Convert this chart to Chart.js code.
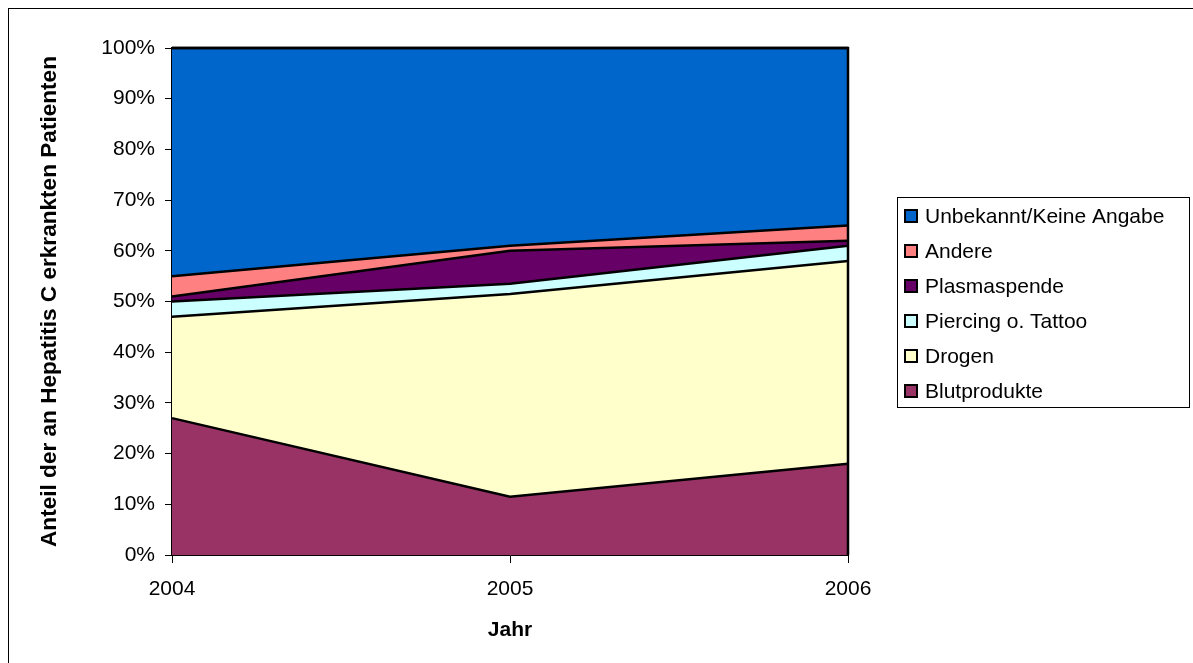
<!DOCTYPE html>
<html>
<head>
<meta charset="utf-8">
<script src="https://cdn.jsdelivr.net/npm/chart.js@4/dist/chart.umd.min.js"></script>
<style>
  html, body { margin: 0; padding: 0; background: #fff; }
  #wrap { width: 1193px; height: 663px; position: relative; }
</style>
</head>
<body>
<div id="wrap"><canvas id="c" width="1193" height="663"></canvas></div>
<script>
// Years on the x axis
const years = ['2004', '2005', '2006'];

// Share of patients (%) per transmission route, stacked bottom to top
const blutprodukte = [27, 11.5, 18];
const drogen = [20, 40, 40];
const piercing = [3, 2, 3];
const plasmaspende = [1, 6.5, 1];
const andere = [4, 1, 3];
const unbekannt = [45, 39, 35];

const yTicks = [0, 10, 20, 30, 40, 50, 60, 70, 80, 90, 100];

const FONT = "'Liberation Sans', Arial, sans-serif";

const series = [
  { label: 'Blutprodukte', data: blutprodukte, color: '#993366' },
  { label: 'Drogen', data: drogen, color: '#FFFFCC' },
  { label: 'Piercing o. Tattoo', data: piercing, color: '#CCFFFF' },
  { label: 'Plasmaspende', data: plasmaspende, color: '#660066' },
  { label: 'Andere', data: andere, color: '#FF8080' },
  { label: 'Unbekannt/Keine Angabe', data: unbekannt, color: '#0066CC' }
];

const datasets = series.map((s, i) => ({
  label: s.label,
  data: s.data,
  backgroundColor: s.color,
  borderColor: '#000',
  borderWidth: 2.5,
  pointRadius: 0,
  tension: 0,
  fill: i === 0 ? 'origin' : '-1',
  clip: 4
}));

// Page frame, plot frame and the boxed legend on the right
const decor = {
  id: 'decor',
  beforeDraw(chart) {
    const ctx = chart.ctx;
    ctx.save();
    ctx.fillStyle = '#fff';
    ctx.fillRect(0, 0, chart.width, chart.height);
    ctx.strokeStyle = '#000';
    ctx.lineWidth = 1;
    ctx.strokeRect(8.5, 8.5, chart.width + 20, chart.height + 20);
    ctx.restore();
  },
  afterDraw(chart) {
    const ctx = chart.ctx;
    const a = chart.chartArea;
    ctx.save();
    ctx.strokeStyle = '#000';
    ctx.lineWidth = 2.5;
    ctx.beginPath();
    ctx.moveTo(a.left, a.top);
    ctx.lineTo(a.right, a.top);
    ctx.lineTo(a.right, a.bottom);
    ctx.stroke();

    // legend
    const lx = 897, ly = 197, lw = 292, lh = 210;
    ctx.lineWidth = 1;
    ctx.strokeRect(lx + 0.5, ly + 0.5, lw, lh);
    ctx.font = '21px ' + FONT;
    ctx.textBaseline = 'middle';
    ctx.fillStyle = '#000';
    const items = chart.data.datasets.slice().reverse();
    items.forEach((d, i) => {
      const cy = 216 + i * 35;
      ctx.fillStyle = d.backgroundColor;
      ctx.fillRect(905, cy - 6, 12, 12);
      ctx.strokeStyle = '#000';
      ctx.lineWidth = 2;
      ctx.strokeRect(905, cy - 6, 12, 12);
      ctx.fillStyle = '#000';
      ctx.fillText(d.label, 925, cy + 1);
    });
    ctx.restore();
  }
};

new Chart(document.getElementById('c'), {
  type: 'line',
  data: { labels: years, datasets },
  plugins: [decor],
  options: {
    responsive: false,
    animation: false,
    devicePixelRatio: 1,
    layout: { padding: { left: 0, top: 48, right: 345, bottom: 0 } },
    plugins: {
      legend: { display: false },
      tooltip: { enabled: false },
      filler: { propagate: false }
    },
    scales: {
      x: {
        type: 'category',
        offset: false,
        afterFit(scale) { scale.height = 108; },
        grid: { drawOnChartArea: false, drawTicks: true, tickLength: 8, color: '#000' },
        border: { display: true, color: '#000', width: 1 },
        ticks: { color: '#000', font: { family: FONT, size: 21 }, padding: 14, maxRotation: 0 },
        title: {
          display: true, text: 'Jahr', color: '#000',
          font: { family: FONT, size: 21, weight: 'bold' },
          padding: { top: 0, bottom: 20 }
        }
      },
      y: {
        stacked: true,
        min: 0, max: 100,
        afterFit(scale) { scale.width = 172; },
        afterBuildTicks(scale) { scale.ticks = yTicks.map(v => ({ value: v })); },
        grid: { drawOnChartArea: false, drawTicks: true, tickLength: 7, color: '#000' },
        border: { display: true, color: '#000', width: 2.5 },
        ticks: {
          color: '#000', font: { family: FONT, size: 21 }, padding: 10,
          callback: v => v + '%'
        },
        title: {
          display: true, text: 'Anteil der an Hepatitis C erkrankten Patienten', color: '#000',
          font: { family: FONT, size: 22.6, weight: 'bold' },
          padding: { top: 36, bottom: 0 }
        }
      }
    }
  }
});
</script>
</body>
</html>
